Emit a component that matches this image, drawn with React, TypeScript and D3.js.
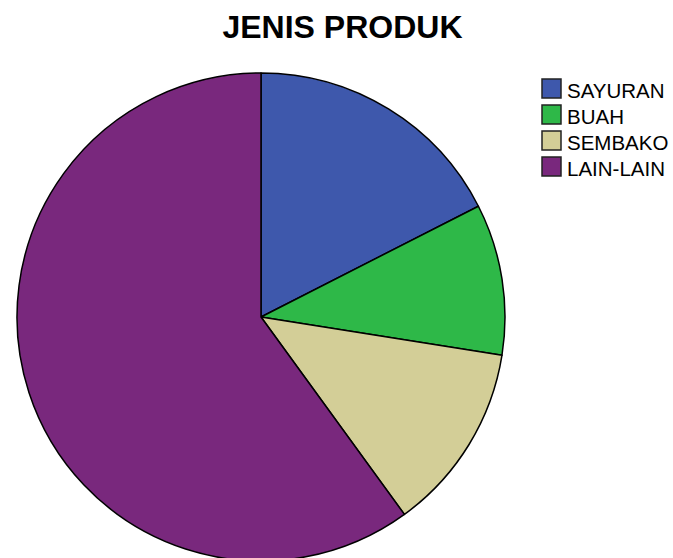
import React from "react";
import * as d3 from "d3";

const categories = ["SAYURAN", "BUAH", "SEMBAKO", "LAIN-LAIN"];
const values = [7, 4, 5, 24];
const colors = ["#3E58AC", "#2EB848", "#D3CE97", "#79287D"];
const title = "JENIS PRODUK";

const W = 673;
const H = 558;
const cx = 261;
const cy = 317;
const R = 244;

export default function App() {
  const pie = d3
    .pie<number>()
    .sort(null)
    .value((d) => d)
    .startAngle(0)
    .endAngle(2 * Math.PI);
  const arcs = pie(values);
  const arc = d3.arc<d3.PieArcDatum<number>>().innerRadius(0).outerRadius(R);

  const legendY = d3
    .scaleBand<string>()
    .domain(categories)
    .range([79, 79 + 26 * categories.length]);

  return (
    <svg
      width={W}
      height={H}
      style={{ position: "absolute", left: 0, top: 0, background: "#fff" }}
      fontFamily="'Liberation Sans', Arial, sans-serif"
    >
      <rect width={W} height={H} fill="#fff" />
      <text x={342.5} y={38} textAnchor="middle" fontSize={32} fontWeight="bold" fill="#000">
        {title}
      </text>
      <g transform={`translate(${cx},${cy})`}>
        {arcs.map((a, i) => (
          <path
            key={categories[i]}
            d={arc(a) || ""}
            fill={colors[i]}
            stroke="#000"
            strokeWidth={1.5}
            strokeLinejoin="round"
          />
        ))}
      </g>
      <g>
        {categories.map((c, i) => {
          const y = legendY(c) as number;
          return (
            <g key={c}>
              <rect
                x={542}
                y={y}
                width={19}
                height={19}
                fill={colors[i]}
                stroke="#222"
                strokeWidth={1.5}
              />
              <text x={567} y={y + 19} fontSize={20.5} fill="#000">
                {c}
              </text>
            </g>
          );
        })}
      </g>
    </svg>
  );
}
